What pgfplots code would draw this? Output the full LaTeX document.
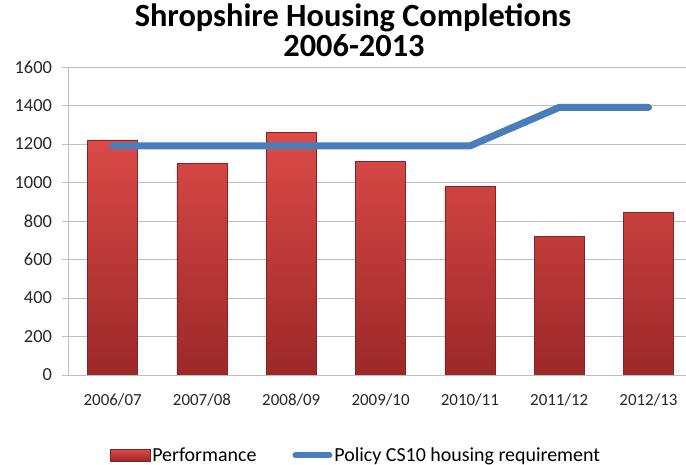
\documentclass[border=0pt]{standalone}
\usepackage{fontspec}
\setmainfont{Carlito}
\usepackage{pgfplots}
\pgfplotsset{compat=1.18}
\definecolor{barTop}{HTML}{DC4B48}
\definecolor{barBot}{HTML}{9C2828}
\definecolor{barEdge}{HTML}{8A2222}
\definecolor{lineBlue}{HTML}{4A7EBB}
\definecolor{gridGray}{HTML}{BEBEBE}
\begin{document}
\begin{tikzpicture}[x=1bp,y=1bp]
\begin{axis}[
  at={(68bp,90bp)}, anchor=south west,
  scale only axis, width=618bp, height=308bp,
  xmin=-0.5, xmax=6.42,
  ymin=0, ymax=1600,
  ytick={0,200,...,1600},
  xtick={0,...,6},
  xticklabels={2006/07,2007/08,2008/09,2009/10,2010/11,2011/12,2012/13},
  ymajorgrids, grid style={gridGray, line width=0.8bp},
  axis x line*=bottom, axis y line*=left,
  axis line style={gridGray, line width=0.8bp},
  x axis line style={-}, y axis line style={-},
  xtick style={draw=none},
  ytick style={gridGray, line width=0.8bp},
  tick align=outside, major tick length=6bp,
  /pgf/number format/assume math mode=true,
  /pgf/number format/1000 sep={},
  xticklabel style={font=\fontsize{17}{20}\selectfont, text=black!85, yshift=-9bp},
  yticklabel style={font=\fontsize{18.5}{20}\selectfont, text=black!85, xshift=-6.5bp},
  legend columns=2,
  legend style={at={(0.466,-0.26)}, anchor=center, draw=none, fill=none,
    font=\fontsize{20}{22}\selectfont, /tikz/every even column/.append style={column sep=34bp}},
  legend cell align=left,
]
\addplot[ybar, bar width=50bp, bar shift=0pt, top color=barTop, bottom color=barBot, draw=barEdge, line width=0.4bp,
  legend image code/.code={\draw[top color=barTop, bottom color=barBot, draw=barEdge, line width=0.4bp] (0bp,-6bp) rectangle (40bp,6bp);}]
  coordinates {(0,1222) (1,1101) (2,1262) (3,1110) (4,980) (5,722) (6,845)};
\addlegendentry{Performance}
\addplot[lineBlue, line width=7bp, line cap=round, line join=round,
  legend image code/.code={\draw[lineBlue, line width=6bp, line cap=round] (3bp,0bp) -- (37bp,0bp);}]
  coordinates {(0,1190) (1,1190) (2,1190) (3,1190) (4,1190) (5,1390) (6,1390)};
\addlegendentry{Policy CS10 housing requirement}
\end{axis}
\node[font=\bfseries\fontsize{32.5}{36}\selectfont, anchor=base, inner sep=0pt] at (353bp,438bp) {Shropshire Housing Completions};
\node[font=\bfseries\fontsize{32.5}{36}\selectfont, anchor=base, inner sep=0pt] at (354bp,408bp) {2006-2013};
\pgfresetboundingbox
\path (0,0) rectangle (686bp,465bp);
\end{tikzpicture}
\end{document}
